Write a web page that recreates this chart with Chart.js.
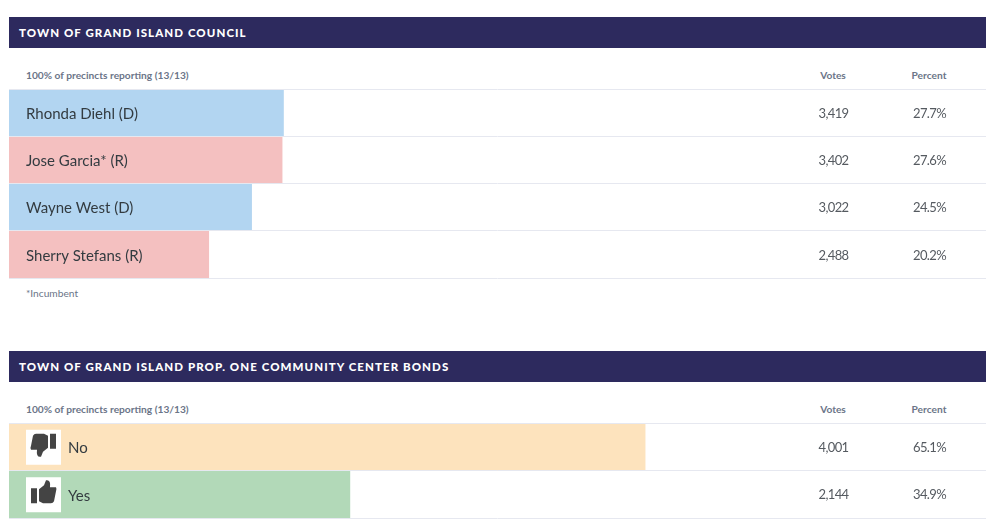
<!DOCTYPE html>
<html>
<head>
<meta charset="utf-8">
<script src="https://cdn.jsdelivr.net/npm/chart.js@4"></script>
<style>
  html, body { margin: 0; padding: 0; background: #fff; }
  body { width: 1000px; height: 530px; position: relative; overflow: hidden; font-family: Lato, sans-serif; }
  .title { position: absolute; left: 9px; width: 977px; height: 31px; line-height: 31px; background: #2d2a5e; color: #fff; font-size: 11.5px; font-weight: 900; letter-spacing: 1.07px; text-indent: 10px; }
  .small { position: absolute; font-size: 10.2px; font-weight: 700; color: #6b7588; line-height: 14px; white-space: nowrap; }
  .head { width: 80px; text-align: center; }
  .note { font-weight: 400; }
  canvas { position: absolute; left: 9px; }
</style>
</head>
<body>
<div class="title" style="top:17px">TOWN OF GRAND ISLAND COUNCIL</div>
<div class="small" style="left:26px;top:68px">100% of precincts reporting (13/13)</div>
<div class="small head" style="left:793px;top:68px">Votes</div>
<div class="small head" style="left:889px;top:68px">Percent</div>
<canvas id="council" width="977" height="191" style="top:88px"></canvas>
<div class="small note" style="left:26px;top:286px">*Incumbent</div>

<div class="title" style="top:351px">TOWN OF GRAND ISLAND PROP. ONE COMMUNITY CENTER BONDS</div>
<div class="small" style="left:26px;top:402px">100% of precincts reporting (13/13)</div>
<div class="small head" style="left:793px;top:402px">Votes</div>
<div class="small head" style="left:889px;top:402px">Percent</div>
<canvas id="prop" width="977" height="97" style="top:422px"></canvas>

<script>
const councilNames = ["Rhonda Diehl (D)", "Jose Garcia* (R)", "Wayne West (D)", "Sherry Stefans (R)"];
const councilVotes = [3419, 3402, 3022, 2488];
const councilPercent = ["27.7%", "27.6%", "24.5%", "20.2%"];
const councilColors = ["#b2d5f1", "#f4c0c0", "#b2d5f1", "#f4c0c0"];
const councilMax = 12170;

const propNames = ["No", "Yes"];
const propVotes = [4001, 2144];
const propPercent = ["65.1%", "34.9%"];
const propColors = ["#fde3bd", "#b2d9b8"];
const propMax = 6145;

// votes + percent columns, drawn next to each row
const columnsPlugin = (percents) => ({
  id: "columns",
  afterDraw(chart) {
    const { ctx } = chart;
    const y = chart.scales.y;
    ctx.save();
    ctx.font = "13px Lato, sans-serif";
    ctx.letterSpacing = "-0.6px";
    ctx.fillStyle = "#555a60";
    ctx.textAlign = "center";
    ctx.textBaseline = "middle";
    chart.data.datasets[0].data.forEach((v, i) => {
      const py = y.getPixelForValue(i) + 1;
      ctx.fillText(v.toLocaleString("en-US"), 824.5, py);
      ctx.fillText(percents[i], 920.5, py);
    });
    ctx.restore();
  },
});

// white box with a thumb, up for Yes and turned round for No
const thumbPlugin = {
  id: "thumbs",
  afterDatasetsDraw(chart) {
    const { ctx } = chart;
    const y = chart.scales.y;
    chart.data.labels.forEach((name, i) => {
      const py = y.getPixelForValue(i);
      ctx.save();
      ctx.translate(17, py - 17);
      ctx.fillStyle = "#fff";
      ctx.fillRect(0, 0, 35, 35);
      ctx.fillStyle = "#444";
      if (name === "No") {
        ctx.translate(35, 30);
        ctx.scale(-1, -1);
      }
      ctx.fillRect(5, 11, 6, 15);
      ctx.beginPath();
      ctx.moveTo(13, 12);
      ctx.lineTo(18, 8);
      ctx.lineTo(20, 3);
      ctx.quadraticCurveTo(25, 2, 24, 10);
      ctx.lineTo(30, 10);
      ctx.quadraticCurveTo(31, 12, 30, 14);
      ctx.lineTo(28, 24);
      ctx.quadraticCurveTo(27, 26, 25, 26);
      ctx.lineTo(17, 26);
      ctx.lineTo(13, 24);
      ctx.closePath();
      ctx.fill();
      ctx.restore();
    });
  },
};

const makeChart = (id, names, votes, colors, max, labelPad, plugins) => {
  new Chart(document.getElementById(id).getContext("2d"), {
    type: "bar",
    data: {
      labels: names,
      datasets: [
        {
          data: votes,
          backgroundColor: colors,
          barPercentage: 1,
          categoryPercentage: 1,
        },
      ],
    },
    plugins: plugins,
    options: {
      indexAxis: "y",
      responsive: false,
      animation: false,
      devicePixelRatio: 1,
      layout: { padding: { top: 1, bottom: 1 } },
      plugins: { legend: { display: false }, tooltip: { enabled: false } },
      scales: {
        x: { display: false, min: 0, max: max },
        y: {
          // labels sit inside the bars, so the axis takes no room
          afterFit(scale) {
            scale.width = 0;
            scale.paddingTop = 0;
            scale.paddingBottom = 0;
          },
          border: { display: false },
          grid: { offset: true, color: "#e6e8f0", drawTicks: false, z: 1 },
          ticks: {
            mirror: true,
            padding: labelPad,
            labelOffset: 1.5,
            z: 2,
            color: "#333b40",
            font: { family: "Lato, sans-serif", size: 15 },
          },
        },
      },
    },
  });
};

makeChart("council", councilNames, councilVotes, councilColors, councilMax, 17, [columnsPlugin(councilPercent)]);
makeChart("prop", propNames, propVotes, propColors, propMax, 59, [thumbPlugin, columnsPlugin(propPercent)]);
</script>
</body>
</html>
